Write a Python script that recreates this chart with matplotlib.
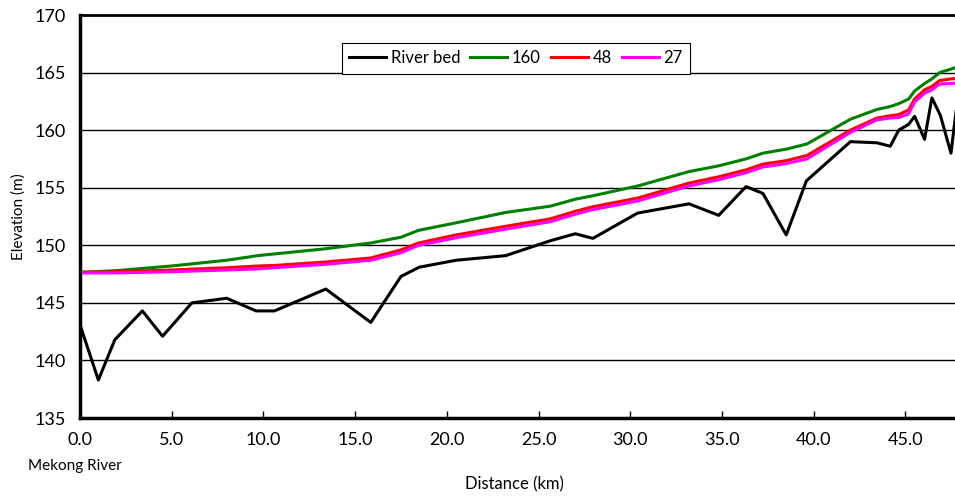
import matplotlib
matplotlib.use("Agg")
import matplotlib.pyplot as plt

plt.rcParams['font.family'] = ['Lato', 'DejaVu Sans']

# River bed profile (distance km, elevation m)
bed_km = [0.0, 1.0, 1.9, 3.4, 4.5, 6.1, 8.0, 9.6, 10.6, 13.4, 15.85, 17.5, 18.5,
          20.5, 23.2, 25.65, 27.0, 27.96, 30.4, 33.2, 34.82, 36.31, 37.23, 38.5,
          39.6, 42.0, 43.45, 44.17, 44.63, 45.17, 45.5, 46.04, 46.44, 46.9,
          47.48, 47.9]
bed_elev = [143.1, 138.3, 141.8, 144.3, 142.1, 145.0, 145.4, 144.3, 144.3, 146.2,
            143.3, 147.3, 148.1, 148.7, 149.1, 150.4, 151.0, 150.6, 152.8, 153.6,
            152.6, 155.1, 154.5, 150.9, 155.6, 159.0, 158.9, 158.6, 160.0, 160.5,
            161.2, 159.2, 162.8, 161.3, 158.0, 163.5]

# Water surface profiles for the three discharge cases
wl_km = [0.0, 2.0, 4.96, 8.0, 9.68, 10.6, 13.4, 15.85, 17.5, 18.46, 20.5, 23.2,
         25.65, 27.0, 27.96, 30.4, 33.2, 34.82, 36.31, 37.23, 38.5, 39.63, 42.0,
         43.45, 44.17, 44.63, 45.17, 45.5, 46.04, 46.44, 46.86, 47.48, 47.9]
wl_160 = [147.65, 147.8, 148.2, 148.7, 149.1, 149.25, 149.7, 150.2, 150.7, 151.3,
          151.95, 152.85, 153.4, 154.0, 154.3, 155.15, 156.4, 156.9, 157.5, 158.0,
          158.35, 158.8, 160.95, 161.8, 162.05, 162.3, 162.7, 163.4, 164.05,
          164.45, 165.0, 165.3, 165.55]
wl_48 = [147.65, 147.7, 147.85, 148.05, 148.2, 148.25, 148.55, 148.9, 149.6, 150.2,
         150.9, 151.65, 152.3, 152.95, 153.35, 154.1, 155.4, 155.95, 156.55, 157.05,
         157.35, 157.8, 160.0, 161.05, 161.25, 161.35, 161.75, 162.7, 163.5,
         163.8, 164.3, 164.45, 164.5]
wl_27 = [147.6, 147.6, 147.7, 147.85, 147.95, 148.05, 148.35, 148.7, 149.35, 150.0,
         150.65, 151.4, 152.05, 152.7, 153.1, 153.85, 155.15, 155.7, 156.3, 156.8,
         157.1, 157.5, 159.8, 160.9, 161.05, 161.1, 161.4, 162.45, 163.2, 163.5,
         164.0, 164.05, 164.1]

x_ticks = [0, 5, 10, 15, 20, 25, 30, 35, 40, 45]
y_ticks = [135, 140, 145, 150, 155, 160, 165, 170]

fig = plt.figure(figsize=(9.55, 4.99), dpi=100)
ax = fig.add_axes([80 / 955, 1 - 418 / 499, 1 - 80 / 955, (418 - 15) / 499])

ax.plot(bed_km, bed_elev, color='black', lw=2.2, label='River bed', zorder=3)
ax.plot(wl_km, wl_160, color='#008000', lw=2.2, label='160', zorder=4)
ax.plot(wl_km, wl_48, color='#ff0000', lw=2.2, label='48', zorder=5)
ax.plot(wl_km, wl_27, color='#ff00ff', lw=2.2, label='27', zorder=6)

ax.set_xlim(0, 47.7)
ax.set_ylim(135, 170)
ax.set_xticks(x_ticks)
ax.set_xticklabels([f"{v:.1f}" for v in x_ticks])
ax.set_yticks(y_ticks)
ax.tick_params(axis='x', direction='in', length=5, width=1, labelsize=13, pad=10)
ax.tick_params(axis='y', length=0, labelsize=13, pad=10)

for y in y_ticks[1:-1]:
    ax.axhline(y, color='black', lw=1, zorder=1)

ax.spines['right'].set_visible(False)
ax.spines['top'].set_linewidth(2.0)
ax.spines['top'].set_color('black')
ax.spines['top'].set_zorder(7)
ax.spines['left'].set_linewidth(2.5)
ax.spines['bottom'].set_linewidth(2.5)
ax.spines['left'].set_zorder(7)
ax.spines['bottom'].set_zorder(7)

ax.set_ylabel('Elevation (m)', fontsize=11)
ax.yaxis.set_label_coords(-0.062, 0.5)
fig.text(514 / 955, 1 - 484 / 499, 'Distance (km)', fontsize=12,
         ha='center', va='center')
fig.text(75 / 955, 1 - 466 / 499, 'Mekong River', fontsize=11,
         ha='center', va='center')

leg = ax.legend(ncol=4, loc='center', bbox_to_anchor=(516 / 955, 1 - 58 / 499),
                bbox_transform=fig.transFigure, fontsize=12, handlelength=2.2,
                handletextpad=0.3, columnspacing=0.6, borderpad=0.45,
                borderaxespad=0, fancybox=False, framealpha=1, edgecolor='black')
leg.get_frame().set_linewidth(0.8)
leg.set_zorder(10)

fig.savefig('out.png', dpi=100)
